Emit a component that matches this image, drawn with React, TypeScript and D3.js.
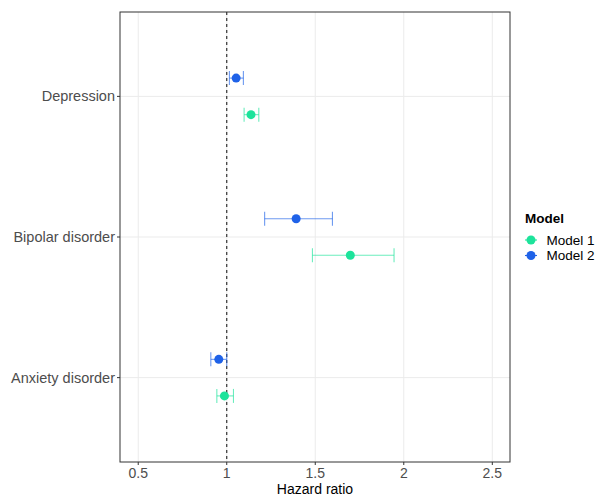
import React from "react";
import * as d3 from "d3";

const categories = ["Depression", "Bipolar disorder", "Anxiety disorder"];
const models = ["Model 1", "Model 2"];
const colors = ["#1de39b", "#1f62e8"];
const model1Est = [1.137, 1.698, 0.987];
const model1Lo = [1.098, 1.484, 0.944];
const model1Hi = [1.181, 1.945, 1.038];
const model2Est = [1.053, 1.392, 0.955];
const model2Lo = [1.015, 1.214, 0.91];
const model2Hi = [1.094, 1.597, 1.0];
const xTicks = [0.5, 1, 1.5, 2, 2.5];

export default function App() {
  const W = 600, H = 498;
  const left = 120, right = 510, top = 12, bottom = 462;
  const x = d3.scaleLinear().domain([0.397, 2.6]).range([left, right]);
  // Depression on top
  const y = d3.scaleLinear().domain([3.6, 0.4]).range([top, bottom]);
  const catPos = (i: number) => 3 - i; // Depression=3 .. Anxiety=1
  const dodge = 0.13;
  const series = [
    { est: model1Est, lo: model1Lo, hi: model1Hi, off: -dodge },
    { est: model2Est, lo: model2Lo, hi: model2Hi, off: dodge },
  ];
  const font = "Liberation Sans, Arial, Helvetica, sans-serif";
  return (
    <svg width={W} height={H} style={{ position: "absolute", left: 0, top: 0 }} fontFamily={font}>
      <rect x={0} y={0} width={W} height={H} fill="#fff" />
      {/* grid */}
      {xTicks.map((t) => (
        <line key={"gx" + t} x1={x(t)} x2={x(t)} y1={top} y2={bottom} stroke="#ebebeb" strokeWidth={1} />
      ))}
      {categories.map((c, i) => (
        <line key={"gy" + c} x1={left} x2={right} y1={y(catPos(i))} y2={y(catPos(i))} stroke="#ebebeb" strokeWidth={1} />
      ))}
      {/* reference line */}
      <line x1={x(1)} x2={x(1)} y1={top} y2={bottom} stroke="#222" strokeWidth={1.1} strokeDasharray="3,3" />
      {/* error bars and points */}
      {series.map((s, si) =>
        categories.map((c, i) => {
          const yc = y(catPos(i) + s.off);
          return (
            <g key={si + c}>
              <g stroke={colors[si]} strokeOpacity={0.65} strokeWidth={1.1}>
                <line x1={x(s.lo[i])} x2={x(s.hi[i])} y1={yc} y2={yc} />
                <line x1={x(s.lo[i])} x2={x(s.lo[i])} y1={yc - 7} y2={yc + 7} />
                <line x1={x(s.hi[i])} x2={x(s.hi[i])} y1={yc - 7} y2={yc + 7} />
              </g>
              <circle cx={x(s.est[i])} cy={yc} r={4.5} fill={colors[si]} />
            </g>
          );
        })
      )}
      {/* panel border */}
      <rect x={left} y={top} width={right - left} height={bottom - top} fill="none" stroke="#333" strokeWidth={1} />
      {/* x axis */}
      {xTicks.map((t) => (
        <g key={"xt" + t}>
          <line x1={x(t)} x2={x(t)} y1={bottom} y2={bottom + 3} stroke="#333" />
          <text x={x(t)} y={bottom + 16} textAnchor="middle" fontSize={14} fill="#4d4d4d">
            {t}
          </text>
        </g>
      ))}
      <text x={(left + right) / 2} y={bottom + 32} textAnchor="middle" fontSize={14} fill="#000">
        Hazard ratio
      </text>
      {/* y axis */}
      {categories.map((c, i) => (
        <g key={"yt" + c}>
          <line x1={left - 3} x2={left} y1={y(catPos(i))} y2={y(catPos(i))} stroke="#333" />
          <text x={left - 5} y={y(catPos(i))} dy="0.35em" textAnchor="end" fontSize={14.5} fill="#4d4d4d">
            {c}
          </text>
        </g>
      ))}
      {/* legend */}
      <text x={525} y={223} fontSize={13.5} fontWeight="bold" fill="#000">
        Model
      </text>
      {models.map((m, i) => (
        <g key={m}>
          <line x1={525} x2={537} y1={240 + i * 15.5} y2={240 + i * 15.5} stroke={colors[i]} strokeWidth={1.1} />
          <circle cx={531} cy={240 + i * 15.5} r={4.5} fill={colors[i]} />
          <text x={546.5} y={240 + i * 15.5} dy="0.35em" fontSize={13.5} fill="#000">
            {m}
          </text>
        </g>
      ))}
    </svg>
  );
}
